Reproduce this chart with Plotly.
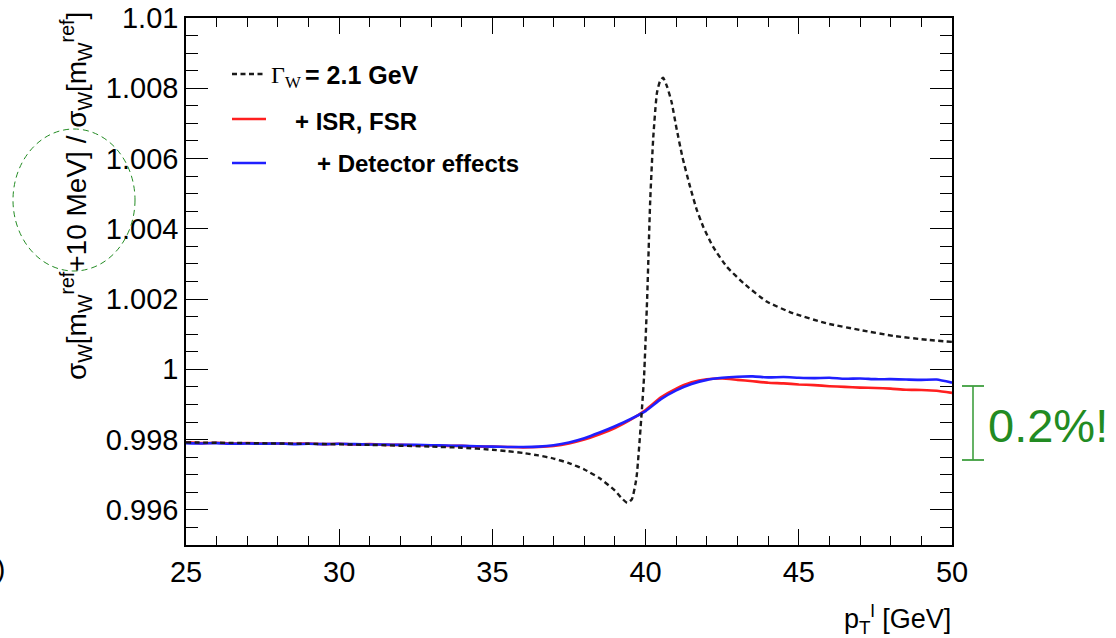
import plotly.graph_objects as go

# ---------------- data ----------------
pt_colored = [25.0, 25.5, 26.0, 26.5, 27.0, 27.5, 28.0, 28.5, 29.0, 29.5,
              30.0, 30.5, 31.0, 31.5, 32.0, 32.5, 33.0, 33.5, 34.0, 34.5,
              35.0, 35.5, 36.0, 36.5, 37.0, 37.5, 38.0, 38.5, 39.0, 39.5,
              40.0, 40.5, 41.0, 41.5, 42.0, 42.5, 43.0, 43.5, 44.0, 44.5,
              45.0, 45.5, 46.0, 46.5, 47.0, 47.5, 48.0, 48.5, 49.0, 49.5, 50.0]

ratio_isr_fsr = [0.99792, 0.99790, 0.99791, 0.99789, 0.99790, 0.99789, 0.99789, 0.99788, 0.99789, 0.99787,
                 0.99788, 0.99786, 0.99787, 0.99785, 0.99785, 0.99784, 0.99784, 0.99782, 0.99782, 0.99780,
                 0.99780, 0.99779, 0.99778, 0.99779, 0.99782, 0.99789, 0.99800, 0.99815, 0.99833, 0.99856,
                 0.99884, 0.99920, 0.99945, 0.99963, 0.99972, 0.99974, 0.99970, 0.99966, 0.99962, 0.99960,
                 0.99957, 0.99955, 0.99952, 0.99950, 0.99948, 0.99947, 0.99945, 0.99942, 0.99941, 0.99939, 0.99933]

ratio_detector = [0.99790, 0.99789, 0.99790, 0.99788, 0.99789, 0.99788, 0.99789, 0.99787, 0.99788, 0.99787,
                  0.99788, 0.99787, 0.99786, 0.99786, 0.99785, 0.99785, 0.99784, 0.99783, 0.99782, 0.99781,
                  0.99780, 0.99779, 0.99779, 0.99780, 0.99784, 0.99792, 0.99804, 0.99820, 0.99838, 0.99858,
                  0.99881, 0.99915, 0.99940, 0.99958, 0.99970, 0.99976, 0.99979, 0.99980, 0.99977, 0.99978,
                  0.99976, 0.99975, 0.99976, 0.99973, 0.99974, 0.99972, 0.99972, 0.99971, 0.99970, 0.99971, 0.99962]

pt_width = [25.0, 27.0, 29.0, 31.0, 33.0, 34.0, 35.0, 35.5, 36.0, 36.5,
            37.0, 37.5, 38.0, 38.5, 39.0, 39.2, 39.4, 39.55, 39.7, 39.87,
            39.95, 40.05, 40.15, 40.25, 40.37, 40.47, 40.57, 40.7, 40.85, 41.0,
            41.2, 41.45, 41.67, 41.88, 42.2, 42.65, 43.2, 43.95, 44.8, 45.9,
            47.0, 48.1, 49.2, 50.0]
ratio_width = [0.99792, 0.99790, 0.99788, 0.99785, 0.99780, 0.99777, 0.99771, 0.99767, 0.99762, 0.99755,
               0.99746, 0.99733, 0.99715, 0.99690, 0.99655, 0.99635, 0.99620, 0.99630, 0.99690, 0.99875,
               0.99980, 1.00200, 1.00480, 1.00660, 1.00787, 1.00820, 1.00830, 1.00805, 1.00760, 1.00690,
               1.00605, 1.00520, 1.00454, 1.00406, 1.00349, 1.00292, 1.00245, 1.00193, 1.00160, 1.00131,
               1.00112, 1.00095, 1.00084, 1.00078]

x_tick_vals = [25, 30, 35, 40, 45, 50]
x_tick_text = ["25", "30", "35", "40", "45", "50"]
y_tick_vals = [0.996, 0.998, 1.0, 1.002, 1.004, 1.006, 1.008, 1.01]
y_tick_text = ["0.996", "0.998", "1", "1.002", "1.004", "1.006", "1.008", "1.01"]

legend_labels = ["= 2.1 GeV", "+ ISR, FSR", "+ Detector effects"]

# ---------------- layout helpers (pixel -> paper) ----------------
L, R, T, B = 186, 952, 18, 545
W_FIG, H_FIG = 1116, 638


def px(x):
    return (x - L) / (R - L)


def py(y):
    return (B - y) / (B - T)


FONT = "Liberation Sans, Arial, Helvetica, sans-serif"
GREEN = "#228B22"
DASH = "5px,3.5px"

fig = go.Figure()
fig.add_trace(go.Scatter(x=pt_colored, y=ratio_isr_fsr, mode="lines",
                         line=dict(color="#ff1f1f", width=2.6, shape="spline", smoothing=0.5), showlegend=False))
fig.add_trace(go.Scatter(x=pt_colored, y=ratio_detector, mode="lines",
                         line=dict(color="#1f1fff", width=2.6, shape="spline", smoothing=0.5), showlegend=False))
fig.add_trace(go.Scatter(x=pt_width, y=ratio_width, mode="lines",
                         line=dict(color="#1a1a1a", width=2.4, dash=DASH, shape="spline", smoothing=0.5),
                         showlegend=False))

axis_common = dict(showline=True, linecolor="black", linewidth=1.5, mirror="allticks", automargin=False,
                   ticks="inside", tickcolor="black", tickwidth=1.3, showgrid=False, zeroline=False,
                   tickfont=dict(family=FONT, size=29, color="black"))

fig.update_xaxes(range=[25, 50], tickvals=x_tick_vals, ticktext=x_tick_text, ticklen=16,
                 minor=dict(dtick=1, tick0=25, ticks="inside", ticklen=9, tickcolor="black", tickwidth=1.3,
                            showgrid=False),
                 **axis_common)
fig.update_yaxes(range=[0.995, 1.01], tickvals=y_tick_vals, ticktext=y_tick_text, ticklen=22,
                 minor=dict(dtick=0.0005, tick0=0.995, ticks="inside", ticklen=12, tickcolor="black",
                            tickwidth=1.3, showgrid=False),
                 **axis_common)

annotations = []
shapes = []

# y-axis title (rotated)
annotations.append(dict(xref="paper", yref="paper", x=px(76), y=py(196), xanchor="center", yanchor="middle",
                        textangle=-90, showarrow=False,
                        text="σ<sub>W</sub>[m<sub>W</sub><sup>ref</sup>+10 MeV] / σ<sub>W</sub>[m<sub>W</sub><sup>ref</sup>]",
                        font=dict(family=FONT, size=28, color="black")))
# x-axis title
annotations.append(dict(xref="paper", yref="paper", x=px(953), y=py(619), xanchor="right", yanchor="middle",
                        showarrow=False, text="p<sub>T</sub><sup>l</sup> [GeV]",
                        font=dict(family=FONT, size=27, color="black")))

# manual legend
leg_y = [74, 119, 163]
leg_colors = ["#1a1a1a", "#ff1f1f", "#1f1fff"]
leg_dash = [DASH, "solid", "solid"]
for yy, col, dsh in zip(leg_y, leg_colors, leg_dash):
    shapes.append(dict(type="line", xref="paper", yref="paper", x0=px(232), x1=px(266), y0=py(yy), y1=py(yy),
                       line=dict(color=col, width=2.5 if dsh == "solid" else 2.3, dash=dsh)))
annotations.append(dict(xref="paper", yref="paper", x=px(269), y=py(77), xanchor="left", yanchor="middle",
                        showarrow=False, text="Γ<sub>W</sub>",
                        font=dict(family="Liberation Serif, Times New Roman, serif", size=24, color="black")))
annotations.append(dict(xref="paper", yref="paper", x=px(303), y=py(75), xanchor="left", yanchor="middle",
                        showarrow=False, text="<b>" + legend_labels[0] + "</b>",
                        font=dict(family=FONT, size=25, color="black")))
annotations.append(dict(xref="paper", yref="paper", x=px(293), y=py(121), xanchor="left", yanchor="middle",
                        showarrow=False, text="<b>" + legend_labels[1] + "</b>",
                        font=dict(family=FONT, size=24, color="black")))
annotations.append(dict(xref="paper", yref="paper", x=px(315), y=py(163), xanchor="left", yanchor="middle",
                        showarrow=False, text="<b>" + legend_labels[2] + "</b>",
                        font=dict(family=FONT, size=24, color="black")))

# green dashed ellipse around part of the y title
shapes.append(dict(type="circle", xref="paper", yref="paper", x0=px(13), x1=px(135), y0=py(271), y1=py(129),
                   line=dict(color=GREEN, width=1, dash="6px,4px")))

# green bracket and "0.2%!"
bracket_col = "#3f9f3f"
shapes.append(dict(type="line", xref="paper", yref="paper", x0=px(973), x1=px(973), y0=py(386), y1=py(460),
                   line=dict(color=bracket_col, width=1.6)))
shapes.append(dict(type="line", xref="paper", yref="paper", x0=px(962), x1=px(984), y0=py(386), y1=py(386),
                   line=dict(color=bracket_col, width=1.8)))
shapes.append(dict(type="line", xref="paper", yref="paper", x0=px(962), x1=px(984), y0=py(460), y1=py(460),
                   line=dict(color=bracket_col, width=1.8)))
annotations.append(dict(xref="paper", yref="paper", x=px(986), y=py(425), xanchor="left", yanchor="middle",
                        showarrow=False, text="0.2%!", font=dict(family=FONT, size=47, color=GREEN)))

# clipped fragment at bottom-left edge
annotations.append(dict(xref="paper", yref="paper", x=px(7), y=py(568), xanchor="right", yanchor="middle",
                        showarrow=False, text=")", font=dict(family=FONT, size=28, color="black")))

fig.update_layout(width=W_FIG, height=H_FIG, margin=dict(l=L, r=W_FIG - R, t=T, b=H_FIG - B),
                  plot_bgcolor="white", paper_bgcolor="white", showlegend=False,
                  annotations=annotations, shapes=shapes)

fig.write_html("out.html", config={"displayModeBar": False},
               post_script="document.body.style.margin='0';")
